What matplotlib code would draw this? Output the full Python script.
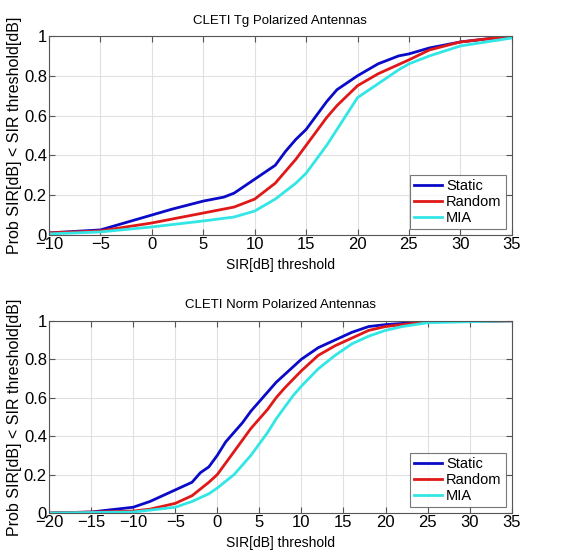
import matplotlib
matplotlib.use("Agg")
import matplotlib.pyplot as plt
import numpy as np

plt.rcParams['font.family'] = ['Liberation Sans Narrow', 'Liberation Sans', 'DejaVu Sans']

# CLETI Tg polarized antennas: CDF of SIR
tg_x_static = [-10, -5, -2, 0, 2, 5, 7, 8, 10, 12, 13, 14, 15, 16, 17, 18, 20, 22, 24, 25, 27, 30, 35]
tg_static = [0.01, 0.025, 0.07, 0.10, 0.13, 0.17, 0.19, 0.21, 0.28, 0.35, 0.42, 0.48, 0.53, 0.60, 0.67, 0.73, 0.80, 0.86, 0.90, 0.91, 0.94, 0.97, 1.0]
tg_x_random = [-10, -5, 0, 5, 8, 10, 12, 14, 15, 16, 17, 18, 20, 22, 25, 27, 30, 35]
tg_random = [0.01, 0.02, 0.06, 0.11, 0.14, 0.18, 0.26, 0.38, 0.45, 0.52, 0.59, 0.65, 0.75, 0.81, 0.88, 0.93, 0.97, 1.0]
tg_x_mia = [-10, -5, 0, 5, 8, 10, 12, 14, 15, 16, 17, 18, 19, 20, 22, 24, 25, 27, 30, 35]
tg_mia = [0.005, 0.015, 0.04, 0.07, 0.09, 0.12, 0.18, 0.26, 0.31, 0.38, 0.45, 0.53, 0.61, 0.69, 0.76, 0.83, 0.86, 0.90, 0.95, 0.99]

# CLETI Norm polarized antennas: CDF of SIR
nm_x_static = [-20, -15, -10, -8, -5, -3, -2, -1, 0, 1, 2, 3, 4, 5, 6, 7, 8, 10, 12, 14, 16, 18, 20, 25, 35]
nm_static = [0.0, 0.005, 0.03, 0.06, 0.12, 0.16, 0.21, 0.24, 0.30, 0.37, 0.42, 0.47, 0.53, 0.58, 0.63, 0.68, 0.72, 0.80, 0.86, 0.90, 0.94, 0.97, 0.98, 0.995, 1.0]
nm_x_random = [-20, -10, -8, -5, -3, -1, 0, 1, 2, 3, 4, 5, 6, 7, 8, 10, 12, 14, 16, 18, 20, 25, 35]
nm_random = [0.0, 0.01, 0.02, 0.05, 0.09, 0.16, 0.20, 0.26, 0.32, 0.38, 0.44, 0.49, 0.54, 0.60, 0.65, 0.74, 0.82, 0.87, 0.91, 0.95, 0.97, 0.995, 1.0]
nm_x_mia = [-20, -10, -5, -3, -1, 0, 2, 3, 4, 5, 6, 7, 8, 9, 10, 12, 14, 16, 18, 20, 22, 25, 35]
nm_mia = [0.0, 0.005, 0.03, 0.06, 0.10, 0.13, 0.20, 0.25, 0.30, 0.36, 0.42, 0.49, 0.55, 0.61, 0.66, 0.75, 0.82, 0.88, 0.92, 0.95, 0.97, 0.99, 1.0]

labels = ['Static', 'Random', 'MIA']
colors = ['#0a0ac8', '#e01818', '#33e6e6']

fig = plt.figure(figsize=(5.85, 5.54), dpi=100)
ax1 = fig.add_axes([0.0838, 0.576, 0.791, 0.359])
ax2 = fig.add_axes([0.0838, 0.074, 0.791, 0.347])

panels = [
    (ax1, 'CLETI Tg Polarized Antennas', (-10, 35), np.arange(-10, 36, 5),
     [(tg_x_static, tg_static), (tg_x_random, tg_random), (tg_x_mia, tg_mia)]),
    (ax2, 'CLETI Norm Polarized Antennas', (-20, 35), np.arange(-20, 36, 5),
     [(nm_x_static, nm_static), (nm_x_random, nm_random), (nm_x_mia, nm_mia)]),
]

for ax, title, xlim, xticks, series in panels:
    for (xs, ys), lab, col in zip(series, labels, colors):
        ax.plot(xs, ys, color=col, lw=2, label=lab)
    ax.set_xlim(*xlim)
    ax.set_ylim(0, 1)
    ax.set_xticks(xticks)
    ax.set_yticks([0, 0.2, 0.4, 0.6, 0.8, 1])
    ax.set_yticklabels(['0', '0.2', '0.4', '0.6', '0.8', '1'])
    ax.grid(True, color='#e0e0e0', lw=0.8)
    ax.tick_params(direction='in', top=True, right=True, labelsize=12, length=4,
                   color='#555555', pad=1.5)
    for s in ax.spines.values():
        s.set_color('#555555')
    ax.set_title(title, fontsize=9.5, pad=9)
    ax.set_xlabel('SIR[dB] threshold', fontsize=10, labelpad=4)
    ax.set_ylabel('Prob SIR[dB] < SIR threshold[dB]', fontsize=11.5, labelpad=1)
    leg = ax.legend(loc='lower right', fontsize=10.5, fancybox=False, handlelength=1.9,
                    borderaxespad=0.4, labelspacing=0.12, handletextpad=0.3, borderpad=0.3)
    leg.get_frame().set_edgecolor('#555555')
    leg.get_frame().set_linewidth(0.8)

fig.savefig('out.png', dpi=100)
